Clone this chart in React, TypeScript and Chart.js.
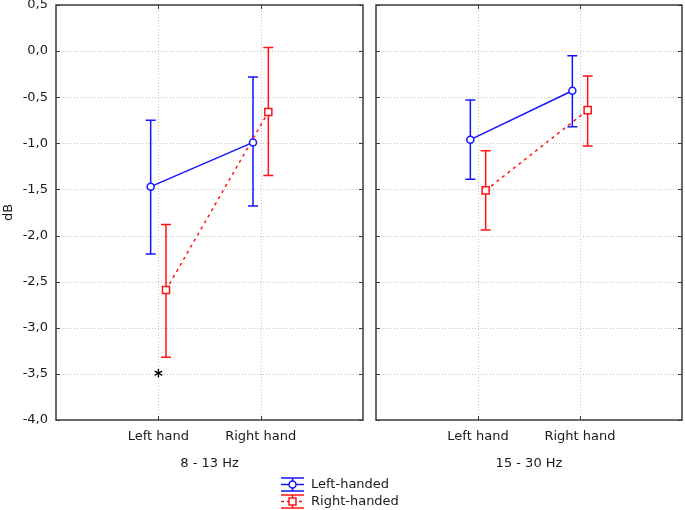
import React, { useEffect, useRef } from "react";
import { Chart, registerables } from "chart.js";

Chart.register(...registerables);

// ---------- data ----------
const categories = ["Left hand", "Right hand"];
const panelTitles = ["8 - 13 Hz", "15 - 30 Hz"];
const yAxisTitle = "dB";
const yTickValues = [0.5, 0, -0.5, -1, -1.5, -2, -2.5, -3, -3.5, -4];
const seriesNames = ["Left-handed", "Right-handed"];

// 8 - 13 Hz
const alphaLeftHandedMean = [-1.47, -0.99];
const alphaLeftHandedUpper = [-0.75, -0.28];
const alphaLeftHandedLower = [-2.2, -1.68];
const alphaRightHandedMean = [-2.59, -0.66];
const alphaRightHandedUpper = [-1.88, 0.04];
const alphaRightHandedLower = [-3.32, -1.35];

// 15 - 30 Hz
const betaLeftHandedMean = [-0.96, -0.43];
const betaLeftHandedUpper = [-0.53, -0.05];
const betaLeftHandedLower = [-1.39, -0.82];
const betaRightHandedMean = [-1.51, -0.64];
const betaRightHandedUpper = [-1.08, -0.27];
const betaRightHandedLower = [-1.94, -1.03];

// significance marks: [panel index, category index, value]
const significancePanels = [0];
const significanceCategories = [0];
const significanceValues = [-3.5];
const significanceText = "*";

// ---------- style ----------
const FONT = "DejaVu Sans";
const TEXT_COLOR = "#1a1a1a";
const BLUE = "#1414ff";
const RED = "#ff1414";
const GRID = "#c4c4c4";
const FRAME = "#3a3a3a";
const OFFSET = 0.075;

const panels = [
  {
    title: panelTitles[0],
    series: [
      { name: seriesNames[0], mean: alphaLeftHandedMean, upper: alphaLeftHandedUpper, lower: alphaLeftHandedLower, color: BLUE, shift: -OFFSET, dash: [], style: "circle" },
      { name: seriesNames[1], mean: alphaRightHandedMean, upper: alphaRightHandedUpper, lower: alphaRightHandedLower, color: RED, shift: OFFSET, dash: [3, 4], style: "rect" },
    ],
  },
  {
    title: panelTitles[1],
    series: [
      { name: seriesNames[0], mean: betaLeftHandedMean, upper: betaLeftHandedUpper, lower: betaLeftHandedLower, color: BLUE, shift: -OFFSET, dash: [], style: "circle" },
      { name: seriesNames[1], mean: betaRightHandedMean, upper: betaRightHandedUpper, lower: betaRightHandedLower, color: RED, shift: OFFSET, dash: [3, 4], style: "rect" },
    ],
  },
];

function makeDecorPlugin(panelIndex: number) {
  const panel = panels[panelIndex];
  return {
    id: "panelDecor" + panelIndex,
    beforeDatasetsDraw(chart: any) {
      const { ctx, chartArea, scales } = chart;
      const x = scales.x;
      const y = scales.y;
      ctx.save();
      // dotted grid
      ctx.strokeStyle = GRID;
      ctx.lineWidth = 1;
      ctx.setLineDash([1, 2]);
      yTickValues.forEach((v) => {
        const py = Math.round(y.getPixelForValue(v)) + 0.5;
        if (py <= chartArea.top + 1 || py >= chartArea.bottom - 1) return;
        ctx.beginPath();
        ctx.moveTo(chartArea.left, py);
        ctx.lineTo(chartArea.right, py);
        ctx.stroke();
      });
      categories.forEach((_, i) => {
        const px = Math.round(x.getPixelForValue(i + 1)) + 0.5;
        ctx.beginPath();
        ctx.moveTo(px, chartArea.top);
        ctx.lineTo(px, chartArea.bottom);
        ctx.stroke();
      });
      ctx.setLineDash([]);
      // error bars
      panel.series.forEach((s, di) => {
        const meta = chart.getDatasetMeta(di);
        meta.data.forEach((pt: any, i: number) => {
          const px = pt.x;
          const yHi = y.getPixelForValue(s.upper[i]);
          const yLo = y.getPixelForValue(s.lower[i]);
          ctx.strokeStyle = s.color;
          ctx.lineWidth = 1.5;
          ctx.beginPath();
          ctx.moveTo(px, yHi);
          ctx.lineTo(px, yLo);
          ctx.moveTo(px - 5, yHi);
          ctx.lineTo(px + 5, yHi);
          ctx.moveTo(px - 5, yLo);
          ctx.lineTo(px + 5, yLo);
          ctx.stroke();
        });
      });
      ctx.restore();
    },
    afterDatasetsDraw(chart: any) {
      const { ctx, chartArea, scales } = chart;
      const x = scales.x;
      const y = scales.y;
      const { left, right, top, bottom } = chartArea;
      ctx.save();
      ctx.strokeStyle = FRAME;
      ctx.lineWidth = 1.5;
      ctx.strokeRect(left, top, right - left, bottom - top);
      ctx.lineWidth = 1;
      ctx.beginPath();
      yTickValues.forEach((v) => {
        const py = Math.round(y.getPixelForValue(v)) + 0.5;
        ctx.moveTo(left, py);
        ctx.lineTo(left + 4, py);
        ctx.moveTo(right, py);
        ctx.lineTo(right - 4, py);
      });
      categories.forEach((_, i) => {
        const px = Math.round(x.getPixelForValue(i + 1)) + 0.5;
        ctx.moveTo(px, top);
        ctx.lineTo(px, top + 4);
        ctx.moveTo(px, bottom);
        ctx.lineTo(px, bottom - 4);
      });
      ctx.stroke();
      // significance marks
      significancePanels.forEach((p, k) => {
        if (p !== panelIndex) return;
        const px = x.getPixelForValue(significanceCategories[k] + 1);
        const py = y.getPixelForValue(significanceValues[k]);
        ctx.font = "bold 17px " + FONT;
        ctx.fillStyle = "#000";
        ctx.textAlign = "center";
        ctx.textBaseline = "alphabetic";
        const m = ctx.measureText(significanceText);
        const asc = m.actualBoundingBoxAscent;
        const desc = m.actualBoundingBoxDescent;
        ctx.fillText(significanceText, px, py + (asc - desc) / 2);
      });
      ctx.restore();
    },
  };
}

function zeroPadding(s: any) {
  s.paddingTop = 0;
  s.paddingBottom = 0;
  s.paddingLeft = 0;
  s.paddingRight = 0;
}

function Panel({ index, width, padLeft, padRight }: { index: number; width: number; padLeft: number; padRight: number }) {
  const ref = useRef<HTMLCanvasElement | null>(null);
  useEffect(() => {
    if (!ref.current) return;
    const panel = panels[index];
    const font = { family: FONT, size: 13 };
    const chart = new Chart(ref.current, {
      type: "line",
      data: {
        datasets: panel.series.map((s) => ({
          label: s.name,
          data: s.mean.map((v, i) => ({ x: i + 1 + s.shift, y: v })),
          borderColor: s.color,
          backgroundColor: "#ffffff",
          borderWidth: 1.5,
          borderDash: s.dash,
          pointStyle: s.style,
          pointRadius: s.style === "rect" ? 5 : 3.5,
          pointBorderWidth: 1.5,
          pointBorderColor: s.color,
          pointBackgroundColor: "#ffffff",
          fill: false,
          tension: 0,
        })),
      },
      options: {
        responsive: false,
        animation: false,
        events: [],
        layout: { autoPadding: false, padding: { left: padLeft, right: padRight, top: 5, bottom: 0 } },
        plugins: { legend: { display: false }, tooltip: { enabled: false } },
        scales: {
          x: {
            type: "linear",
            min: 0,
            max: 3,
            grid: { display: false, drawTicks: false },
            border: { display: false },
            afterBuildTicks: (s: any) => {
              s.ticks = categories.map((_, i) => ({ value: i + 1 }));
            },
            ticks: {
              callback: (v: any) => categories[Number(v) - 1] ?? "",
              padding: 9,
              font,
              color: TEXT_COLOR,
              maxRotation: 0,
              autoSkip: false,
            },
            title: { display: true, text: panel.title, font, color: TEXT_COLOR, padding: { top: 0, bottom: 39 } },
            afterFit: (s: any) => {
              s.height = 90;
              zeroPadding(s);
            },
          },
          y: {
            type: "linear",
            min: -4,
            max: 0.5,
            grid: { display: false, drawTicks: false },
            border: { display: false },
            afterBuildTicks: (s: any) => {
              s.ticks = yTickValues.map((v) => ({ value: v }));
            },
            ticks: {
              display: index === 0,
              padding: 8,
              font,
              color: TEXT_COLOR,
              callback: (v: any) => Number(v).toFixed(1).replace(".", ","),
            },
            title: { display: index === 0, text: yAxisTitle, font, color: TEXT_COLOR, padding: { top: 1, bottom: 0 } },
            afterFit: (s: any) => {
              s.width = index === 0 ? 56 : 0;
              zeroPadding(s);
            },
          },
        },
      },
      plugins: [makeDecorPlugin(index)],
    } as any);
    return () => chart.destroy();
  }, [index]);
  return <canvas ref={ref} width={width} height={510} style={{ display: "block", width, height: 510 }} />;
}

function LegendIcon({ color, dashed, square }: { color: string; dashed: boolean; square: boolean }) {
  return (
    <svg width={23} height={15} style={{ display: "block" }}>
      <line x1={0} y1={1} x2={23} y2={1} stroke={color} strokeWidth={1.5} />
      <line x1={0} y1={14} x2={23} y2={14} stroke={color} strokeWidth={1.5} />
      <line x1={11.5} y1={1} x2={11.5} y2={14} stroke={color} strokeWidth={1.5} />
      <line x1={0} y1={7.5} x2={23} y2={7.5} stroke={color} strokeWidth={1.5} strokeDasharray={dashed ? "3 3" : undefined} />
      {square ? (
        <rect x={8} y={4} width={7} height={7} fill="#fff" stroke={color} strokeWidth={1.5} />
      ) : (
        <circle cx={11.5} cy={7.5} r={3.5} fill="#fff" stroke={color} strokeWidth={1.5} />
      )}
    </svg>
  );
}

export default function App() {
  return (
    <div style={{ position: "fixed", left: 0, top: 0, width: 685, height: 510, background: "#fff", overflow: "hidden" }}>
      <div style={{ position: "absolute", left: 0, top: 0 }}>
        <Panel index={0} width={370} padLeft={0} padRight={7} />
      </div>
      <div style={{ position: "absolute", left: 370, top: 0 }}>
        <Panel index={1} width={315} padLeft={6} padRight={3} />
      </div>
      <div style={{ position: "absolute", left: 281, top: 476, fontFamily: FONT, fontSize: 13, color: TEXT_COLOR }}>
        {seriesNames.map((name, i) => (
          <div key={name} style={{ display: "flex", alignItems: "center", height: 16, marginTop: i === 0 ? 0 : 1 }}>
            <LegendIcon color={i === 0 ? BLUE : RED} dashed={i === 1} square={i === 1} />
            <span style={{ marginLeft: 7, lineHeight: "16px" }}>{name}</span>
          </div>
        ))}
      </div>
    </div>
  );
}
